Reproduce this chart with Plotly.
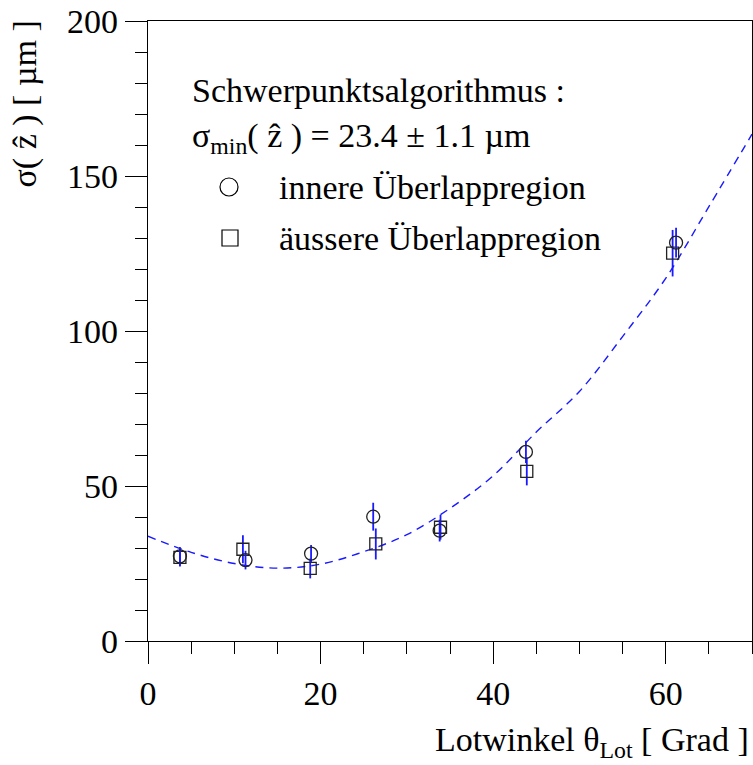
import plotly.graph_objects as go

# --- data ---
inner_x = [3.7, 11.3, 18.9, 26.1, 33.8, 43.8, 61.2]
inner_y = [27.3, 26.1, 28.2, 40.1, 35.6, 61.0, 128.5]
inner_err = [3.0, 3.0, 2.8, 4.5, 3.5, 3.6, 4.8]

outer_x = [3.7, 11.0, 18.8, 26.4, 33.9, 43.9, 60.8]
outer_y = [27.0, 29.6, 23.4, 31.3, 36.7, 54.7, 125.1]
outer_err = [3.0, 4.5, 3.2, 5.0, 4.0, 4.5, 7.5]

fit_x = [0, 5, 10, 15, 20, 25, 30, 35, 40, 45, 50, 55, 60, 65, 70]
fit_y = [33.8, 28.6, 25.0, 23.5, 24.8, 28.8, 34.3, 42.8, 53.3, 67.4, 80.5, 98.2, 117.0, 140.1, 163.5]

x_ticks = [0, 20, 40, 60]
y_ticks = [0, 50, 100, 150, 200]

FONT = "Liberation Serif"
FS = 34
BLUE = "#1a1aff"

W, H = 753, 765
L, R, T, B = 148, 1, 21, 124
pw, ph = W - L - R, H - T - B


def px(xp):
    return (xp - L) / pw


def py(yp):
    return 1 - (yp - T) / ph


fig = go.Figure()
fig.add_trace(go.Scatter(x=fit_x, y=fit_y, mode="lines", line=dict(color=BLUE, width=1.4, dash="8px,6px", shape="spline"),
                         hoverinfo="skip", showlegend=False))
fig.add_trace(go.Scatter(x=outer_x, y=outer_y, mode="markers",
                         marker=dict(symbol="square-open", size=12, color="#222222", line=dict(width=1.3)),
                         error_y=dict(type="data", array=outer_err, color=BLUE, thickness=1.8, width=0),
                         showlegend=False))
fig.add_trace(go.Scatter(x=inner_x, y=inner_y, mode="markers",
                         marker=dict(symbol="circle-open", size=13, color="#222222", line=dict(width=1.3)),
                         error_y=dict(type="data", array=inner_err, color=BLUE, thickness=1.8, width=0),
                         showlegend=False))

axis_common = dict(showgrid=False, zeroline=False, showline=True, linecolor="black", linewidth=1.3,
                   mirror=True, ticks="outside", tickcolor="black", tickwidth=1.3, ticklabeloverflow="allow",
                   tickfont=dict(family=FONT, size=FS, color="black"))
fig.update_xaxes(range=[0, 70], tickvals=x_ticks, ticklen=22, ticklabelstandoff=0,
                 minor=dict(dtick=5, ticklen=12, ticks="outside", tickcolor="black", tickwidth=1.3),
                 **axis_common)
fig.update_yaxes(range=[0, 200], tickvals=y_ticks, ticklen=22, ticklabelstandoff=0,
                 minor=dict(dtick=10, ticklen=12, ticks="outside", tickcolor="black", tickwidth=1.3),
                 **axis_common)

ann = []
tf = dict(family=FONT, size=FS, color="black")
ann.append(dict(text="Schwerpunktsalgorithmus :", x=px(190), y=py(90), xanchor="left", yanchor="middle"))
ann.append(dict(text="σ<sub>min</sub>( ẑ ) = 23.4 ± 1.1 µm", x=px(190), y=py(138), xanchor="left", yanchor="middle"))
ann.append(dict(text="innere Überlappregion", x=px(277), y=py(188), xanchor="left", yanchor="middle"))
ann.append(dict(text="äussere Überlappregion", x=px(277), y=py(238), xanchor="left", yanchor="middle"))
ann.append(dict(text="Lotwinkel θ<sub>Lot</sub> [ Grad ]", x=px(751), y=py(742), xanchor="right", yanchor="middle"))
ann.append(dict(text="σ( ẑ ) [ µm ]", x=px(25), y=py(18), xanchor="center", yanchor="top", textangle=-90))
for a in ann:
    a.update(xref="paper", yref="paper", showarrow=False, font=tf)
fig.update_layout(annotations=ann)

shapes = [
    dict(type="circle", xref="paper", yref="paper", x0=px(220), x1=px(238), y0=py(196), y1=py(178),
         line=dict(color="black", width=1.2)),
    dict(type="rect", xref="paper", yref="paper", x0=px(222), x1=px(238), y0=py(246), y1=py(230),
         line=dict(color="black", width=1.2)),
]
fig.update_layout(shapes=shapes)

fig.update_layout(width=W, height=H, margin=dict(l=L, r=R, t=T, b=B),
                  paper_bgcolor="white", plot_bgcolor="white", showlegend=False,
                  font=dict(family=FONT, size=FS, color="black"))

fig.write_html("out.html", config={"displayModeBar": False},
               post_script="document.body.style.margin='0';document.body.style.overflow='hidden';")
